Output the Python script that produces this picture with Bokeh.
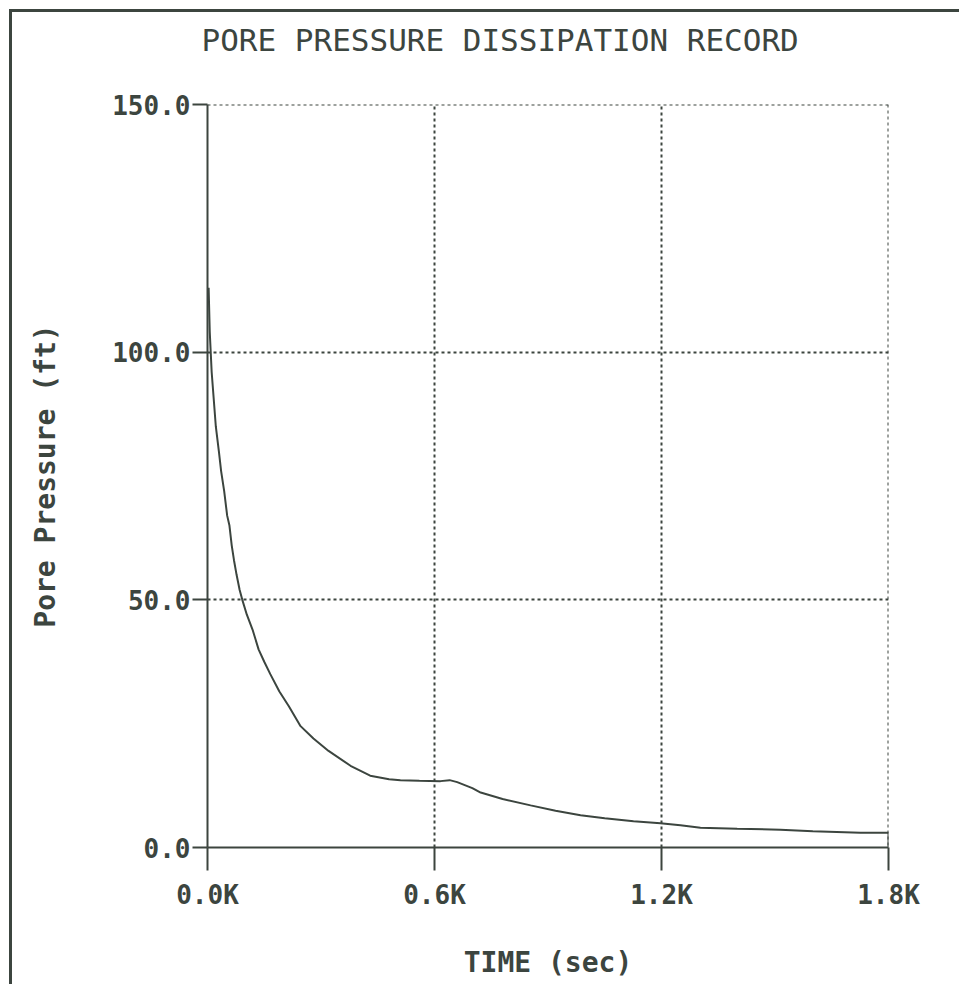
from bokeh.plotting import figure
from bokeh.models import FixedTicker, Range1d, Span, Title
from bokeh.embed import file_html
from bokeh.resources import INLINE

# ---- data ----
time_s = [3, 6, 11, 16, 22, 30, 36, 44, 52, 58, 64, 70, 77, 85, 92, 104, 119, 135,
          150, 166, 190, 215, 246, 280, 320, 378, 430, 480, 510, 560, 616, 640,
          660, 700, 722, 780, 854, 920, 986, 1050, 1126, 1197, 1250, 1303, 1400,
          1514, 1600, 1726, 1800, 1800]
pressure_ft = [113, 104, 96, 91, 85, 80, 76, 72, 67, 65, 61, 58, 55, 52, 50, 47, 44, 40,
               37.5, 35, 31.5, 28.5, 24.5, 22, 19.5, 16.5, 14.5, 13.8, 13.6, 13.5, 13.4,
               13.6, 13.2, 12, 11.1, 9.8, 8.5, 7.4, 6.5, 5.9, 5.3, 4.9, 4.5, 4.0, 3.8,
               3.6, 3.3, 3.0, 3.0, 0]

x_ticks = [0, 600, 1200, 1800]
x_tick_labels = ["0.0K", "0.6K", "1.2K", "1.8K"]
y_ticks = [0, 50, 100, 150]
y_tick_labels = ["0.0", "50.0", "100.0", "150.0"]

title_text = "PORE PRESSURE DISSIPATION RECORD"
x_label = "TIME (sec)"
y_label = "Pore Pressure (ft)"

INK = "#3c453f"
MONO = "DejaVu Sans Mono"

W, H = 950, 975
p = figure(width=W, height=H, output_backend="svg", toolbar_location=None, title=None,
           x_range=Range1d(0, 1800), y_range=Range1d(0, 150),
           min_border_left=195, min_border_right=W - 876,
           min_border_top=92, min_border_bottom=H - 835,
           styles={"margin-left": "9px", "margin-top": "9px",
                   "border-left": f"3px solid {INK}", "border-top": f"3px solid {INK}"})

p.outline_line_color = None
p.background_fill_color = "white"
p.border_fill_color = "white"

# spacer between the frame and the title (first "above" item sits next to the frame)
p.add_layout(Title(text=" ", text_font_size="10px", text_color="white", standoff=34), "above")
p.add_layout(Title(text=title_text, text_font=MONO, text_font_style="normal",
                   text_font_size="31px", text_color=INK, align="left",
                   offset=-6, standoff=0), "above")

p.line(time_s, pressure_ft, line_color=INK, line_width=2)

for ax in (p.xaxis[0], p.yaxis[0]):
    ax.axis_line_color = INK
    ax.axis_line_width = 2
    ax.major_tick_line_color = INK
    ax.major_tick_line_width = 2
    ax.minor_tick_line_color = None
    ax.major_tick_in = 0
    ax.major_label_text_font = MONO
    ax.major_label_text_font_style = "bold"
    ax.major_label_text_font_size = "26px"
    ax.major_label_text_color = INK
    ax.axis_label_text_font = MONO
    ax.axis_label_text_font_style = "bold"
    ax.axis_label_text_font_size = "28px"
    ax.axis_label_text_color = INK

p.xaxis.ticker = FixedTicker(ticks=x_ticks)
p.xaxis.major_label_overrides = dict(zip(x_ticks, x_tick_labels))
p.xaxis.major_tick_out = 23
p.xaxis.major_label_standoff = 9
p.xaxis.axis_label = x_label
p.xaxis.axis_label_standoff = 33

p.yaxis.ticker = FixedTicker(ticks=y_ticks)
p.yaxis.major_label_overrides = dict(zip(y_ticks, y_tick_labels))
p.yaxis.major_tick_out = 15
p.yaxis.major_label_standoff = 2
p.yaxis.axis_label = y_label
p.yaxis.axis_label_standoff = 47

for g in (p.xgrid[0], p.ygrid[0]):
    g.grid_line_color = INK
    g.grid_line_width = 2
    g.grid_line_dash = "3 3"
p.xgrid.ticker = FixedTicker(ticks=x_ticks[1:-1])
p.ygrid.ticker = FixedTicker(ticks=y_ticks[1:-1])

# dotted border lines at the top tick (150) and the right tick (1.8K)
p.add_layout(Span(location=y_ticks[-1], dimension="width", line_color=INK,
                  line_width=2, line_dash="3 3"))
p.add_layout(Span(location=x_ticks[-1], dimension="height", line_color=INK,
                  line_width=2, line_dash="3 3"))

open("out.html", "w").write(file_html(p, INLINE))
